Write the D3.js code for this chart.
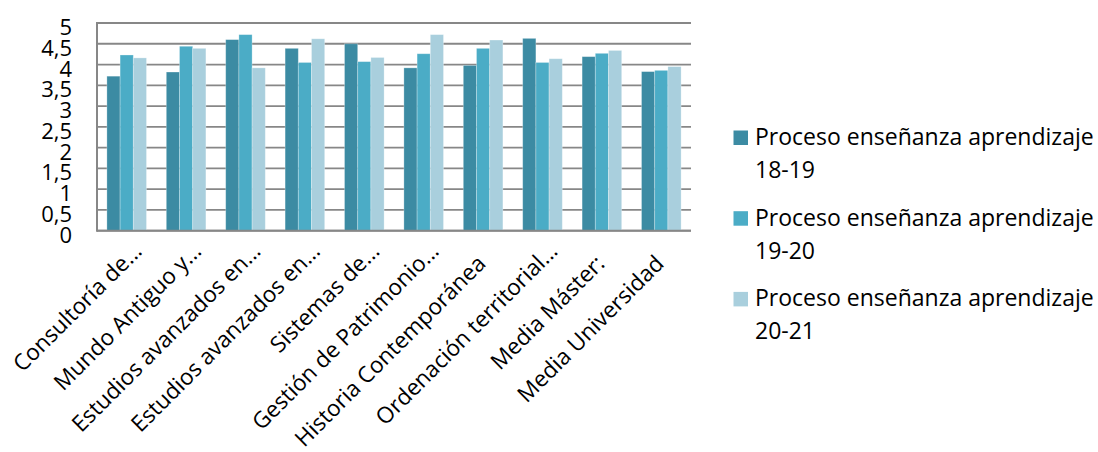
<!DOCTYPE html>
<html><head><meta charset="utf-8">
<script src="https://cdn.jsdelivr.net/npm/d3@7"></script>
<style>
body{margin:0;background:#fff;}
svg{display:block;}
text{font-family:"Open Sans","Noto Sans",sans-serif;fill:#000;}
</style>
</head><body>
<svg id="chart" width="1098" height="452"></svg>
<script>
const categories = [
  "Consultoría de...",
  "Mundo Antiguo y...",
  "Estudios avanzados en...",
  "Estudios avanzados en...",
  "Sistemas de...",
  "Gestión de Patrimonio...",
  "Historia Contemporánea",
  "Ordenación territorial...",
  "Media Máster:",
  "Media Universidad"
];
const seriesNames = [
  "Proceso enseñanza aprendizaje 18-19",
  "Proceso enseñanza aprendizaje 19-20",
  "Proceso enseñanza aprendizaje 20-21"
];
const s1819 = [3.72, 3.82, 4.60, 4.39, 4.50, 3.92, 3.98, 4.63, 4.19, 3.83];
const s1920 = [4.23, 4.44, 4.72, 4.05, 4.07, 4.26, 4.39, 4.05, 4.27, 3.86];
const s2021 = [4.16, 4.39, 3.92, 4.62, 4.17, 4.72, 4.59, 4.14, 4.34, 3.95];
const tickValues = [0, 0.5, 1, 1.5, 2, 2.5, 3, 3.5, 4, 4.5, 5];
const tickLabels = ["0", "0,5", "1", "1,5", "2", "2,5", "3", "3,5", "4", "4,5", "5"];
const colors = ["#3c8ba3", "#4bacc6", "#a9cfdd"];

const seriesValues = [s1819, s1920, s2021];
const svg = d3.select("#chart");
const plot = {left: 97, right: 691, top: 23, bottom: 230.7};
const FONT = '"Open Sans","Noto Sans",sans-serif';

const x0 = d3.scaleBand().domain(d3.range(categories.length))
  .range([plot.left, plot.right]).paddingInner(1/3).paddingOuter(1/6);
const x1 = d3.scaleBand().domain(d3.range(seriesNames.length))
  .range([0, x0.bandwidth()]);
const y = d3.scaleLinear().domain([0, 5]).range([plot.bottom, plot.top]);

// gridlines
svg.append("g").selectAll("line").data(tickValues).join("line")
  .attr("x1", plot.left).attr("x2", plot.right)
  .attr("y1", d => y(d)).attr("y2", d => y(d))
  .attr("stroke", "#878787").attr("stroke-width", 1.8);

// bars
const groups = svg.append("g").selectAll("g").data(categories).join("g")
  .attr("transform", (d, i) => `translate(${x0(i)},0)`);
groups.selectAll("rect")
  .data((d, i) => seriesValues.map((vals, s) => ({s, v: vals[i]})))
  .join("rect")
  .attr("x", d => x1(d.s)).attr("width", x1.bandwidth())
  .attr("y", d => y(d.v)).attr("height", d => y(0) - y(d.v))
  .attr("fill", d => colors[d.s])
  .attr("stroke", "rgba(255,255,255,0.35)").attr("stroke-width", 0.8);

// axis lines
svg.append("line").attr("x1", plot.left).attr("x2", plot.right)
  .attr("y1", y(0)).attr("y2", y(0)).attr("stroke", "#878787").attr("stroke-width", 2);
svg.append("line").attr("x1", plot.left).attr("x2", plot.left)
  .attr("y1", y(5) - 1).attr("y2", y(0) + 1).attr("stroke", "#878787").attr("stroke-width", 2);

// y axis labels
const yAxis = svg.append("g").attr("transform", `translate(${plot.left},0)`)
  .call(d3.axisLeft(y).tickValues(tickValues)
    .tickFormat((d, i) => tickLabels[i]).tickSize(0).tickPadding(25));
yAxis.select(".domain").remove();
yAxis.selectAll("text").attr("font-size", 22).attr("fill", "#000")
  .style("font-family", FONT)
  .attr("x", -25).attr("dy", null).attr("dominant-baseline", "central")
  .attr("transform", "translate(0,2.5)");

// x labels
const xl = svg.append("g").selectAll("g").data(categories).join("g")
  .attr("transform", (d, i) => `translate(${x0(i) + x0.bandwidth() / 2 + 4},265) rotate(-45)`);
xl.append("text").attr("text-anchor", "end").attr("font-size", 22.5)
  .text(d => d.endsWith("...") ? d.slice(0, -3) : d);
xl.filter(d => d.endsWith("...")).append("text").attr("text-anchor", "start")
  .attr("font-size", 22.5).text("...");

// legend
const leg = svg.append("g").selectAll("g").data(seriesNames).join("g")
  .attr("transform", (d, i) => `translate(733.5,${145 + i * 80.7})`);
leg.append("rect").attr("x", 0).attr("y", -14.5).attr("width", 14.5).attr("height", 14.5)
  .attr("fill", (d, i) => colors[i]);
leg.append("text").attr("x", 21.5).attr("y", 0).attr("font-size", 23)
  .text(d => d.slice(0, d.lastIndexOf(" ")));
leg.append("text").attr("x", 21.5).attr("y", 33).attr("font-size", 23)
  .text(d => d.slice(d.lastIndexOf(" ") + 1));
</script>
</body></html>
